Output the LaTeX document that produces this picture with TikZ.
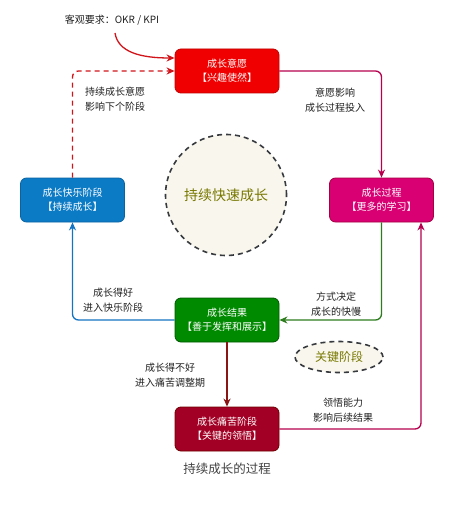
\documentclass[tikz,border=0pt]{standalone}
\usepackage{fontspec}
\setmainfont{Noto Sans CJK SC}
\usetikzlibrary{arrows.meta,shapes.geometric}
\definecolor{redF}{HTML}{F00000}\definecolor{redS}{HTML}{C00000}
\definecolor{magF}{HTML}{D80073}\definecolor{magS}{HTML}{A50040}
\definecolor{bluF}{HTML}{0C7BC6}\definecolor{bluS}{HTML}{0A64A4}
\definecolor{grnF}{HTML}{008A00}\definecolor{grnS}{HTML}{005700}
\definecolor{drdF}{HTML}{A20025}\definecolor{drdS}{HTML}{6F0000}
\definecolor{cirF}{HTML}{F9F7ED}\definecolor{cirS}{HTML}{36393D}
\definecolor{olive}{HTML}{777700}
\definecolor{txt}{HTML}{222222}
\definecolor{lnMag}{HTML}{B8004F}
\definecolor{lnGrn}{HTML}{2D7D1E}
\definecolor{lnBlu}{HTML}{1474C4}
\definecolor{lnDrd}{HTML}{8B1414}
\definecolor{lnRed}{HTML}{D0141A}
\tikzset{
  x=1pt,y=-1pt,
  box/.style={rectangle,rounded corners=6pt,minimum width=104pt,minimum height=44pt,
    line width=0.8pt,text=white,align=center,font=\fontsize{10}{14}\selectfont,inner sep=0pt},
  lbl/.style={align=center,text=txt,font=\fontsize{10}{14.5}\selectfont,inner sep=0pt},
  conn/.style={line width=1.3pt,rounded corners=6pt,-{Stealth[length=8pt,width=7pt,inset=2.5pt]}},
}
\begin{document}
\begin{tikzpicture}
\useasboundingbox[fill=white] (0,0) rectangle (451,505);
% background nodes
\node[circle,minimum size=121pt,fill=cirF,draw=cirS,line width=1.6pt,dash pattern=on 5pt off 4pt,
  text=olive,font=\fontsize{14}{16}\selectfont,inner sep=0pt] (core) at (226,195) {持续快速成长};
\node[ellipse,minimum width=88pt,minimum height=31pt,fill=cirF,draw=cirS,line width=1.6pt,
  dash pattern=on 5pt off 4pt,text=olive,font=\fontsize{12}{14}\selectfont,inner sep=0pt] (key) at (339,357) {关键阶段};
% main nodes
\node[box,fill=redF,draw=redS] (wish) at (227,71) {成长意愿\\【兴趣使然】};
\node[box,fill=magF,draw=magS] (proc) at (381.5,200) {成长过程\\【更多的学习】};
\node[box,fill=bluF,draw=bluS] (happy) at (72.5,200) {成长快乐阶段\\【持续成长】};
\node[box,fill=grnF,draw=grnS] (res) at (227,320) {成长结果\\【善于发挥和展示】};
\node[box,fill=drdF,draw=drdS] (pain) at (227,429) {成长痛苦阶段\\【关键的领悟】};
% top text
\node[lbl,font=\fontsize{10}{12}\selectfont] (req) at (112,20) {客观要求：OKR / KPI};
\coordinate (reqEnd) at (115,33);
% connectors
\draw[conn,lnRed] (reqEnd) .. controls (118,52) and (140,58) .. ([yshift=13pt]wish.west);
\draw[conn,lnRed,dashed,dash pattern=on 5pt off 4pt] (happy.north) |- (wish.west);
\draw[conn,lnMag] (wish.east) -| (proc.north);
\draw[conn,lnGrn] (proc.south) |- (res.east);
\draw[conn,lnBlu] (res.west) -| (happy.south);
\draw[conn,lnDrd] (res.south) -- (pain.north);
\draw[conn,lnMag] (pain.east) -| ([xshift=39.5pt]proc.south);
% labels
\node[lbl] (l1) at (115,99) {持续成长意愿\\影响下个阶段};
\node[lbl] (l2) at (335,100) {意愿影响\\成长过程投入};
\node[lbl] (l3) at (336,304) {方式决定\\成长的快慢};
\node[lbl] (l4) at (113,300) {成长得好\\进入快乐阶段};
\node[lbl] (l5) at (170,375) {成长得不好\\进入痛苦调整期};
\node[lbl] (l6) at (343,410) {领悟能力\\影响后续结果};
\node[text=txt!85,font=\fontsize{12.5}{14}\selectfont,inner sep=0pt] (cap) at (227,469) {持续成长的过程};
\end{tikzpicture}
\end{document}
